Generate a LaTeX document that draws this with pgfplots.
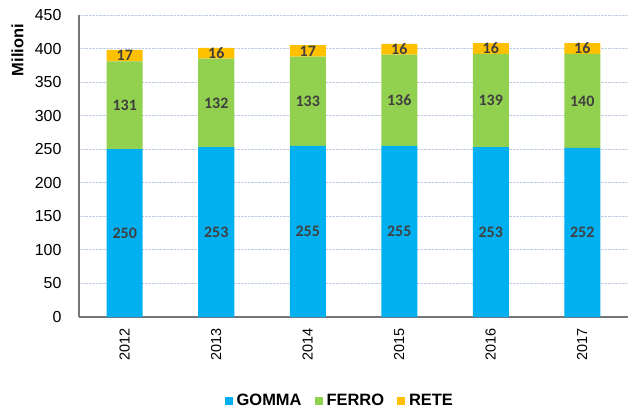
\documentclass[border=0pt]{standalone}
\usepackage{pgfplots}
\pgfplotsset{compat=1.18}
\usepackage{pgfplotstable}
\usepackage{fontspec}
\setmainfont{Liberation Sans}
\newfontfamily\lblfont{Carlito}

\definecolor{gomma}{RGB}{0,176,240}
\definecolor{ferro}{RGB}{146,208,80}
\definecolor{rete}{RGB}{255,192,0}
\definecolor{lblgray}{RGB}{64,64,64}
\definecolor{gridc}{RGB}{190,205,228}
\definecolor{axisc}{RGB}{118,118,118}

% milioni per anno
\pgfplotstableread{
x g f r
0 250 131 17
1 253 132 16
2 255 133 17
3 255 136 16
4 253 139 16
5 252 140 16
}\data

\begin{document}
\begin{tikzpicture}
\begin{axis}[
    at={(0,0)}, anchor=south west,
    scale only axis, width=549bp, height=302bp,
    /pgf/number format/assume math mode=true,
    ybar stacked, bar width=36bp,
    ymin=0, ymax=450, ytick={0,50,...,450},
    xmin=-0.5, xmax=5.5, xtick={0,...,5},
    xticklabels={2012,2013,2014,2015,2016,2017},
    x tick label style={rotate=90, anchor=east,
        font=\fontsize{14.5}{14.5}\selectfont},
    xticklabel shift=8bp,
    y tick label style={font=\fontsize{16}{16}\selectfont, xshift=-14bp},
    axis x line*=bottom, axis y line*=left,
    axis line style={axisc, line width=1.2pt, -},
    major tick length=0,
    ymajorgrids, grid style={gridc, densely dotted, line width=0.8pt},
    ylabel={\bfseries Milioni},
    ylabel style={at={(axis description cs:-0.112,0.884)}, anchor=center,
        font=\fontsize{16.5}{16.5}\selectfont},
    nodes near coords, point meta=explicit,
    every node near coord/.append style={anchor=center, text=lblgray,
        font=\lblfont\bfseries\fontsize{16}{16}\selectfont},
    legend style={at={(axis description cs:0.475,-0.278)}, anchor=center,
        draw=none, legend columns=3, font=\bfseries\fontsize{16.5}{16.5}\selectfont,
        /tikz/every odd column/.append style={column sep=2bp},
        /tikz/every even column/.append style={column sep=11bp}},
    legend image code/.code={\fill[#1, draw=none] (0bp,-4bp) rectangle (8bp,4bp);},
]
\addplot[fill=gomma, draw=none] table[x=x, y=g, meta=g] {\data};
\addplot[fill=ferro, draw=none] table[x=x, y=f, meta=f] {\data};
\addplot[fill=rete, draw=none] table[x=x, y=r, meta=r] {\data};
\legend{GOMMA, FERRO, RETE}
\end{axis}
\path (-79bp,-95bp) rectangle (551bp,317bp);
\end{tikzpicture}
\end{document}
